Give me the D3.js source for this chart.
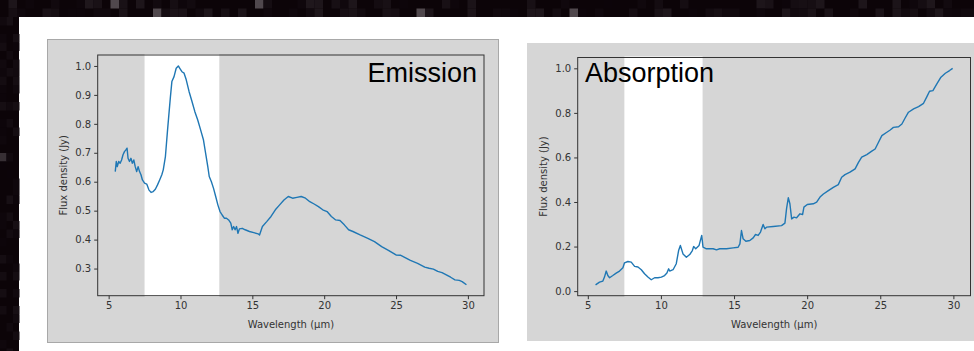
<!DOCTYPE html>
<html>
<head>
<meta charset="utf-8">
<script src="https://cdn.jsdelivr.net/npm/d3@7"></script>
<style>
  body { margin: 0; background: #fff; }
  svg { display: block; }
</style>
</head>
<body>
<svg id="chart" width="974" height="351"></svg>
<script>
// emission spectrum (left panel)
const emissionWave = [5.46, 5.53, 5.6, 5.7, 5.8, 5.9, 6.0, 6.1, 6.2, 6.28, 6.35, 6.45, 6.55, 6.65, 6.75, 6.85, 6.95, 7.05, 7.15, 7.25, 7.35, 7.5, 7.65, 7.8, 7.95, 8.1, 8.25, 8.4, 8.55, 8.7, 8.8, 8.95, 9.1, 9.2, 9.3, 9.4, 9.55, 9.7, 9.85, 9.95, 10.1, 10.25, 10.4, 10.6, 10.8, 11.0, 11.2, 11.4, 11.6, 11.75, 11.9, 12.0, 12.15, 12.3, 12.45, 12.6, 12.75, 12.9, 13.05, 13.2, 13.35, 13.5, 13.6, 13.7, 13.8, 13.9, 14.0, 14.1, 14.3, 14.5, 14.8, 15.1, 15.4, 15.5, 15.7, 16.0, 16.3, 16.6, 16.9, 17.2, 17.5, 17.8, 18.1, 18.4, 18.7, 19.0, 19.3, 19.6, 19.9, 20.2, 20.5, 20.8, 21.1, 21.4, 21.7, 22.0, 22.5, 23.0, 23.5, 24.0, 24.5, 25.0, 25.3, 25.7, 26.0, 26.5, 27.0, 27.3, 27.6, 27.9, 28.2, 28.5, 28.8, 29.1, 29.4, 29.6, 29.9];
const emissionFlux = [0.635, 0.670, 0.652, 0.670, 0.664, 0.675, 0.693, 0.704, 0.710, 0.716, 0.681, 0.670, 0.681, 0.664, 0.675, 0.652, 0.635, 0.652, 0.635, 0.624, 0.606, 0.595, 0.592, 0.572, 0.563, 0.566, 0.574, 0.589, 0.606, 0.624, 0.641, 0.687, 0.779, 0.837, 0.894, 0.946, 0.963, 0.992, 1.0, 0.992, 0.980, 0.975, 0.952, 0.911, 0.877, 0.842, 0.813, 0.779, 0.744, 0.698, 0.652, 0.618, 0.600, 0.577, 0.549, 0.520, 0.497, 0.485, 0.474, 0.474, 0.468, 0.457, 0.434, 0.445, 0.434, 0.445, 0.422, 0.437, 0.439, 0.434, 0.428, 0.424, 0.420, 0.416, 0.445, 0.462, 0.480, 0.503, 0.520, 0.537, 0.549, 0.543, 0.546, 0.549, 0.543, 0.531, 0.523, 0.514, 0.503, 0.497, 0.480, 0.468, 0.466, 0.451, 0.434, 0.428, 0.416, 0.405, 0.393, 0.376, 0.362, 0.347, 0.346, 0.336, 0.328, 0.318, 0.305, 0.301, 0.298, 0.290, 0.286, 0.278, 0.270, 0.261, 0.259, 0.255, 0.244];

// absorption spectrum (right panel)
const absorptionWave = [5.53, 5.8, 6.03, 6.14, 6.26, 6.37, 6.49, 6.71, 6.94, 7.17, 7.4, 7.51, 7.74, 7.97, 8.2, 8.43, 8.66, 8.88, 9.11, 9.34, 9.57, 9.8, 10.03, 10.25, 10.41, 10.53, 10.6, 10.83, 11.05, 11.21, 11.33, 11.51, 11.74, 11.97, 12.15, 12.24, 12.38, 12.61, 12.79, 12.88, 13.11, 13.57, 13.8, 14.02, 14.48, 14.94, 15.28, 15.4, 15.51, 15.62, 15.81, 16.08, 16.31, 16.47, 16.65, 16.81, 16.99, 17.11, 17.22, 17.68, 18.25, 18.48, 18.59, 18.71, 18.82, 18.94, 19.1, 19.28, 19.51, 19.69, 19.78, 20.01, 20.42, 20.65, 20.88, 21.11, 21.45, 21.79, 22.13, 22.36, 22.59, 22.93, 23.28, 23.51, 23.73, 24.08, 24.42, 24.65, 24.88, 25.11, 25.45, 25.68, 25.9, 26.25, 26.48, 26.7, 26.93, 27.28, 27.62, 27.96, 28.19, 28.37, 28.6, 28.87, 29.15, 29.45, 29.74, 29.95];
const absorptionFlux = [0.028, 0.040, 0.045, 0.063, 0.090, 0.070, 0.060, 0.070, 0.081, 0.090, 0.105, 0.127, 0.133, 0.130, 0.111, 0.108, 0.096, 0.078, 0.063, 0.051, 0.060, 0.060, 0.063, 0.070, 0.081, 0.100, 0.090, 0.096, 0.123, 0.182, 0.205, 0.167, 0.152, 0.164, 0.182, 0.200, 0.190, 0.205, 0.250, 0.197, 0.190, 0.190, 0.185, 0.190, 0.190, 0.194, 0.197, 0.212, 0.272, 0.235, 0.224, 0.227, 0.239, 0.254, 0.250, 0.265, 0.299, 0.280, 0.287, 0.290, 0.294, 0.305, 0.369, 0.419, 0.392, 0.324, 0.332, 0.329, 0.347, 0.344, 0.377, 0.389, 0.392, 0.399, 0.422, 0.436, 0.451, 0.466, 0.478, 0.511, 0.523, 0.534, 0.549, 0.578, 0.601, 0.613, 0.628, 0.638, 0.668, 0.698, 0.713, 0.723, 0.735, 0.738, 0.750, 0.777, 0.803, 0.818, 0.828, 0.843, 0.873, 0.897, 0.900, 0.930, 0.960, 0.978, 0.990, 1.000];

const xTickValues = [5, 10, 15, 20, 25, 30];
const emissionYTicks = [0.3, 0.4, 0.5, 0.6, 0.7, 0.8, 0.9, 1.0];
const absorptionYTicks = [0.0, 0.2, 0.4, 0.6, 0.8, 1.0];
const emissionSpan = [7.5, 12.7];
const absorptionSpan = [7.5, 12.85];

const svg = d3.select('#chart');
const fontTick = 'DejaVu Sans, sans-serif';

// dark blocky border (edge of the screenshot)
svg.append('rect').attr('width', 974).attr('height', 17).attr('fill', '#0c0408');
svg.append('rect').attr('width', 19).attr('height', 351).attr('fill', '#0c0408');
const hash = (i, j) => {
  let v = Math.sin(i * 12.9898 + j * 78.233) * 43758.5453;
  return v - Math.floor(v);
};
const blk = 8.5;
for (let i = 0; i < 115; i++) {
  for (let j = 0; j < 2; j++) {
    const h = hash(i, j);
    if (h < 0.5) continue;
    const g = h > 0.985 ? 80 : Math.round(12 + (h - 0.5) * 40);
    svg.append('rect').attr('x', i * blk).attr('y', j * blk).attr('width', blk).attr('height', Math.min(blk, 17 - j * blk))
      .attr('fill', d3.rgb(g, g - 8, g - 3));
  }
}
for (let j = 2; j < 42; j++) {
  for (let i = 0; i < 3; i++) {
    const h = hash(i + 200, j);
    if (h < 0.6) continue;
    const g = h > 0.985 ? 55 : Math.round(12 + (h - 0.6) * 30);
    svg.append('rect').attr('x', i * 6.5).attr('y', j * blk).attr('width', 6.5).attr('height', blk)
      .attr('fill', d3.rgb(g, g - 8, g - 3));
  }
}

function padded(ext) {
  const p = (ext[1] - ext[0]) * 0.05;
  return [ext[0] - p, ext[1] + p];
}

function drawPanel(cfg) {
  const g = svg.append('g');
  g.append('rect')
    .attr('x', cfg.box[0]).attr('y', cfg.box[1])
    .attr('width', cfg.box[2]).attr('height', cfg.box[3])
    .attr('fill', '#d6d6d6')
    .attr('stroke', cfg.boxStroke || 'none');

  const x = d3.scaleLinear().domain(padded(d3.extent(cfg.wave))).range([cfg.frame[0], cfg.frame[1]]);
  const y = d3.scaleLinear().domain(padded(d3.extent(cfg.flux))).range([cfg.frame[3], cfg.frame[2]]);

  // highlighted band
  g.append('rect')
    .attr('x', x(cfg.span[0])).attr('y', cfg.frame[2] - 1)
    .attr('width', x(cfg.span[1]) - x(cfg.span[0]))
    .attr('height', cfg.frame[3] - cfg.frame[2] + 2)
    .attr('fill', '#fff');

  const pts = cfg.wave.map((w, i) => [w, cfg.flux[i]]);
  g.append('path')
    .datum(pts)
    .attr('fill', 'none')
    .attr('stroke', '#1f77b4')
    .attr('stroke-width', 1.4)
    .attr('stroke-linejoin', 'round')
    .attr('d', d3.line().x(d => x(d[0])).y(d => y(d[1])));

  // frame
  g.append('rect')
    .attr('x', cfg.frame[0]).attr('y', cfg.frame[2])
    .attr('width', cfg.frame[1] - cfg.frame[0])
    .attr('height', cfg.frame[3] - cfg.frame[2])
    .attr('fill', 'none').attr('stroke', '#333').attr('stroke-width', 1);

  const xAxis = g.append('g')
    .attr('transform', `translate(0,${cfg.frame[3]})`)
    .call(d3.axisBottom(x).tickValues(xTickValues).tickSize(3.5).tickPadding(3).tickFormat(d3.format('d')));
  const yAxis = g.append('g')
    .attr('transform', `translate(${cfg.frame[0]},0)`)
    .call(d3.axisLeft(y).tickValues(cfg.yTicks).tickSize(3.5).tickPadding(3).tickFormat(d3.format('.1f')));
  [xAxis, yAxis].forEach(a => {
    a.select('.domain').remove();
    a.selectAll('line').attr('stroke', '#333');
    a.selectAll('text').attr('fill', '#333').style('font-family', fontTick).style('font-size', '10px');
  });

  g.append('text')
    .attr('x', (cfg.frame[0] + cfg.frame[1]) / 2).attr('y', 328)
    .attr('text-anchor', 'middle')
    .attr('fill', '#333')
    .style('font-family', fontTick).style('font-size', '10px')
    .text('Wavelength (µm)');
  g.append('text')
    .attr('transform', `translate(${cfg.frame[0] - 31},${(cfg.frame[2] + cfg.frame[3]) / 2}) rotate(-90)`)
    .attr('text-anchor', 'middle')
    .attr('fill', '#333')
    .style('font-family', fontTick).style('font-size', '10px')
    .text('Flux density (Jy)');

  g.append('text')
    .attr('x', cfg.title[1]).attr('y', cfg.title[2])
    .attr('text-anchor', cfg.title[3])
    .attr('fill', '#000')
    .style('font-family', 'Liberation Sans, Arial, sans-serif').style('font-size', '27px')
    .text(cfg.title[0]);
}

drawPanel({
  box: [47.5, 39.5, 451, 303], boxStroke: '#a8a8a8',
  frame: [97.7, 484, 55, 295.7],
  wave: emissionWave, flux: emissionFlux,
  yTicks: emissionYTicks, span: emissionSpan,
  title: ['Emission', 477, 82, 'end']
});
drawPanel({
  box: [527, 43, 447, 298],
  frame: [577.7, 970.5, 57.5, 295.7],
  wave: absorptionWave, flux: absorptionFlux,
  yTicks: absorptionYTicks, span: absorptionSpan,
  title: ['Absorption', 585, 82, 'start']
});
</script>
</body>
</html>
